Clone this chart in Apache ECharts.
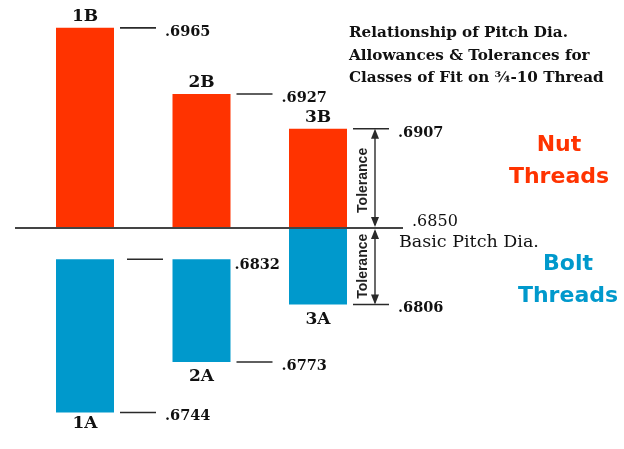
<!DOCTYPE html>
<html><head><meta charset="utf-8">
<script src="https://cdn.jsdelivr.net/npm/echarts@6/dist/echarts.min.js"></script>
<style>html,body{margin:0;padding:0;background:#fff}#c{width:624px;height:449px}</style>
</head><body><div id="c"></div>
<script>
// ---- data (pitch diameters, inches) ----
const nutClasses = ['1B', '2B', '3B'];
const boltClasses = ['1A', '2A', '3A'];
const basicPitchDia = 0.6850;
const nutMaxPD = [0.6965, 0.6927, 0.6907];
const boltMaxPD = [0.6832, 0.6832, 0.6850];
const boltMinPD = [0.6744, 0.6773, 0.6806];
const boltMaxMark = ['dash', 'label', 'none'];
const titleLines = ['Relationship of Pitch Dia.', 'Allowances & Tolerances for', 'Classes of Fit on \u00BE-10 Thread'];

// ---- styles ----
const RED = '#FF3300', BLUE = '#0099CC', INK = '#2a2a2a';
const BAR_W = 58;
const numFont = 'bold 14.5px "DejaVu Serif"';
const clsFont = 'bold 17px "DejaVu Serif"';
const fmt = v => v.toFixed(4).slice(1);

const chart = echarts.init(document.getElementById('c'), null, {renderer: 'canvas'});

function barRender(color, labels, above) {
  return function (params, api) {
    const i = api.value(0);
    const pHi = api.coord([i, api.value(2)]);
    const pLo = api.coord([i, api.value(1)]);
    const x = pHi[0] - BAR_W / 2;
    return {
      type: 'group',
      children: [
        {type: 'rect', shape: {x: x, y: pHi[1], width: BAR_W, height: pLo[1] - pHi[1]}, style: {fill: color}},
        {type: 'text', x: pHi[0], y: above ? pHi[1] - 11 : pLo[1] + (i === 0 ? 11 : 15),
          style: {text: labels[i], font: clsFont, fill: '#111', align: 'center', verticalAlign: 'middle'}}
      ]
    };
  };
}

// annotation list built from data arrays
const annots = [];
nutMaxPD.forEach((v, i) => annots.push({cat: i, v: v, mode: 'both'}));
boltMaxPD.forEach((v, i) => { if (boltMaxMark[i] !== 'none') annots.push({cat: i, v: v, mode: boltMaxMark[i]}); });
boltMinPD.forEach((v, i) => annots.push({cat: i, v: v, mode: 'both'}));

function annotRender(params, api) {
  const a = annots[params.dataIndex];
  const p = api.coord([a.cat, a.v]);
  const right = p[0] + BAR_W / 2;
  const ch = [];
  if (a.mode === 'both') {
    ch.push({type: 'line', shape: {x1: right + 6, y1: p[1], x2: right + 42, y2: p[1]}, style: {stroke: INK, lineWidth: 1.6}});
    ch.push({type: 'text', x: right + 51, y: p[1] + 4, style: {text: fmt(a.v), font: numFont, fill: '#111', align: 'left', verticalAlign: 'middle'}});
  } else if (a.mode === 'dash') {
    ch.push({type: 'line', shape: {x1: right + 13, y1: p[1], x2: right + 49, y2: p[1]}, style: {stroke: INK, lineWidth: 1.6}});
  } else if (a.mode === 'label') {
    ch.push({type: 'text', x: right + 4, y: p[1] + 6, style: {text: fmt(a.v), font: numFont, fill: '#111', align: 'left', verticalAlign: 'middle'}});
  }
  return {type: 'group', children: ch};
}

function arrow(x, y1, y2) {
  const h = 10, w = 4;
  return [
    {type: 'line', shape: {x1: x, y1: y1 + 2, x2: x, y2: y2 - 2}, style: {stroke: INK, lineWidth: 1.4}},
    {type: 'polygon', shape: {points: [[x, y1], [x - w, y1 + h], [x + w, y1 + h]]}, style: {fill: INK}},
    {type: 'polygon', shape: {points: [[x, y2], [x - w, y2 - h], [x + w, y2 - h]]}, style: {fill: INK}}
  ];
}

function baseRender(params, api) {
  const pL = api.coord([0, basicPitchDia]);
  const pR = api.coord([2, basicPitchDia]);
  const i = 2;
  const pNut = api.coord([i, nutMaxPD[i]]);
  const pMin = api.coord([i, boltMinPD[i]]);
  const ax = pR[0] + BAR_W / 2 + 28;
  const tx = pR[0] + BAR_W / 2 + 16;
  const ch = [
    {type: 'line', shape: {x1: pL[0] - 70, y1: pL[1], x2: pR[0] + 85, y2: pL[1]}, style: {stroke: '#444', lineWidth: 2}},
    {type: 'text', x: pR[0] + 94, y: pL[1] - 6, style: {text: fmt(basicPitchDia), font: '16px "DejaVu Serif"', fill: '#111', align: 'left', verticalAlign: 'middle'}},
    {type: 'text', x: pR[0] + 81, y: pL[1] + 14, style: {text: 'Basic Pitch Dia.', font: '17.5px "DejaVu Serif"', fill: '#111', align: 'left', verticalAlign: 'middle'}},
    {type: 'text', x: tx, y: (pNut[1] + pL[1]) / 2 + 2, rotation: Math.PI / 2,
      style: {text: 'Tolerance', font: 'bold 14px "Liberation Sans"', fill: '#222', align: 'center', verticalAlign: 'middle'}},
    {type: 'text', x: tx, y: (pMin[1] + pL[1]) / 2, rotation: Math.PI / 2,
      style: {text: 'Tolerance', font: 'bold 14px "Liberation Sans"', fill: '#222', align: 'center', verticalAlign: 'middle'}}
  ].concat(arrow(ax, pNut[1], pL[1] - 1), arrow(ax, pL[1] + 1, pMin[1]));
  return {type: 'group', children: ch};
}

chart.setOption({
  animation: false,
  backgroundColor: '#fff',
  grid: {left: 26.75, width: 349.5, top: 0, bottom: 0},
  xAxis: {type: 'category', data: nutClasses, show: false, boundaryGap: true},
  yAxis: {type: 'value', min: 0.6723, max: 0.6981, show: false},
  graphic: [
    {type: 'text', left: 349, top: 22, style: {text: titleLines.join('\n'), font: 'bold 15.2px "DejaVu Serif"', lineHeight: 22.5, fill: '#111'}},
    {type: 'text', x: 559, y: 145, style: {text: 'Nut', font: 'bold 22px "DejaVu Sans"', fill: RED, align: 'center', verticalAlign: 'middle'}},
    {type: 'text', x: 559, y: 177, style: {text: 'Threads', font: 'bold 22px "DejaVu Sans"', fill: RED, align: 'center', verticalAlign: 'middle'}},
    {type: 'text', x: 568, y: 264, style: {text: 'Bolt', font: 'bold 22px "DejaVu Sans"', fill: BLUE, align: 'center', verticalAlign: 'middle'}},
    {type: 'text', x: 568, y: 296, style: {text: 'Threads', font: 'bold 22px "DejaVu Sans"', fill: BLUE, align: 'center', verticalAlign: 'middle'}}
  ],
  series: [
    {type: 'custom', name: 'Nut', renderItem: barRender(RED, nutClasses, true), clip: false,
      data: nutMaxPD.map((v, i) => [i, basicPitchDia, v])},
    {type: 'custom', name: 'Bolt', renderItem: barRender(BLUE, boltClasses, false), clip: false,
      data: boltMaxPD.map((v, i) => [i, boltMinPD[i], v])},
    {type: 'custom', name: 'Annot', renderItem: annotRender, clip: false,
      data: annots.map(a => [a.cat, a.v])},
    {type: 'custom', name: 'Basic', renderItem: baseRender, clip: false,
      data: [[0, basicPitchDia]]}
  ]
});
</script></body></html>
